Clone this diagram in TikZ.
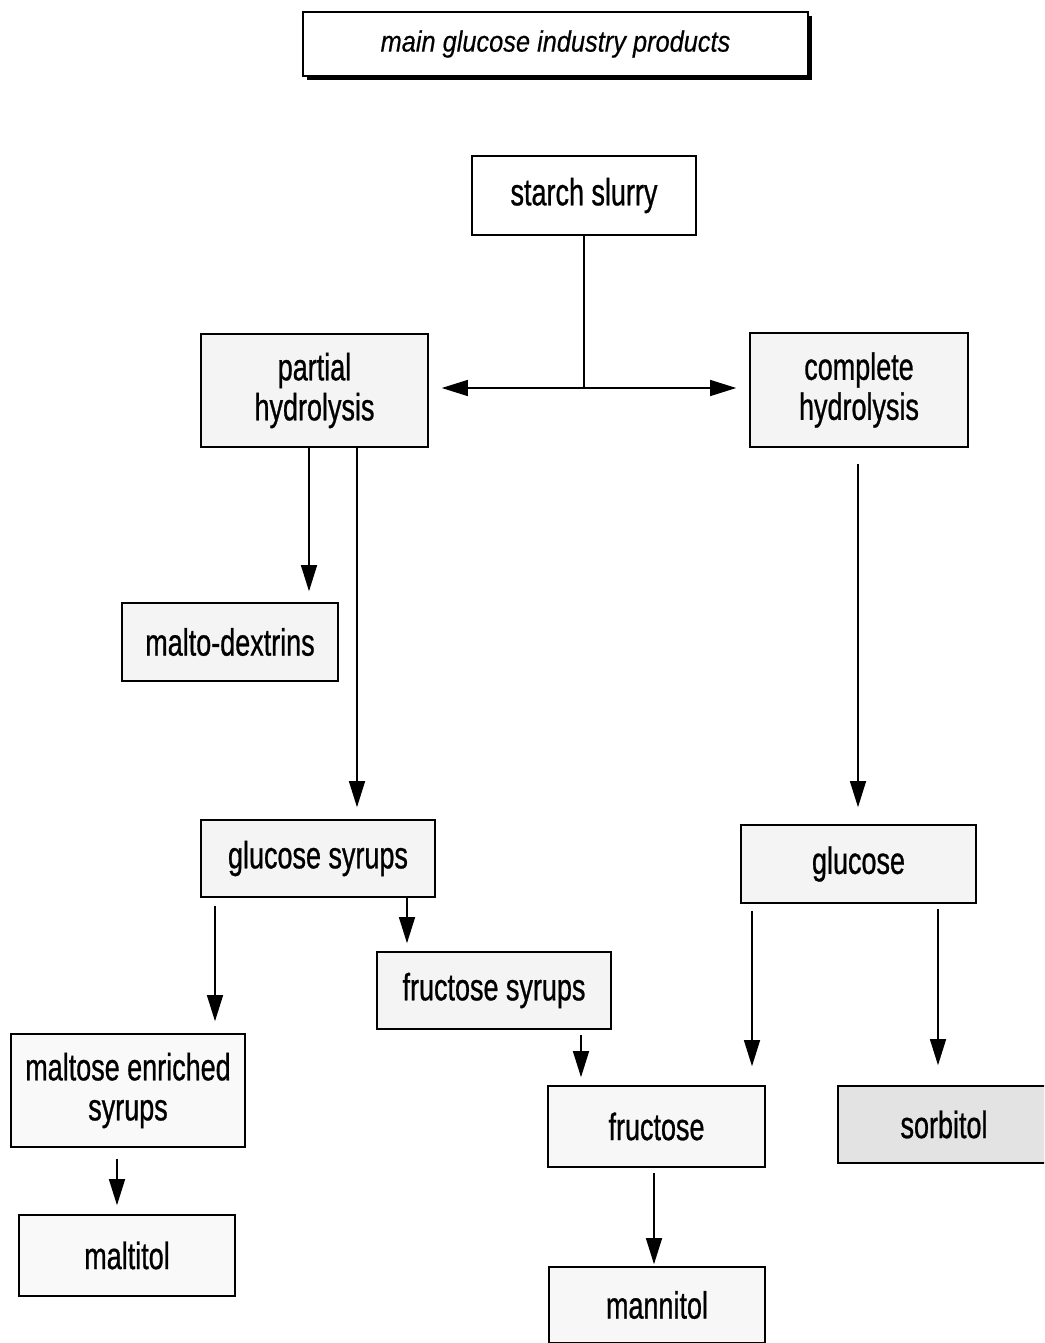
\documentclass[tikz,border=0pt]{standalone}
\usepackage{fontspec}
\setmainfont{Liberation Sans}[FakeStretch=0.71,FakeBold=0.7]
\newfontfamily\headfont{Liberation Sans}[FakeStretch=0.86,FakeBold=0.4]
\usetikzlibrary{arrows.meta,shadows}

\tikzset{
 box/.style 2 args={draw=black, line width=1.6pt, fill=gray!9,
   minimum width=#1, minimum height=#2, inner sep=0pt, align=center,
   font=\fontsize{38}{40}\selectfont},
 arr/.style={-{Triangle[length=26pt,width=16pt]}, line width=1.3pt},
 line/.style={line width=1.3pt}
}

\begin{document}
\begin{tikzpicture}[x=1pt,y=-1pt]
\clip (0,0) rectangle (1044,1343);

% title with shadow
\node[box={505}{64}, fill=white, font=\fontsize{29.5}{32}\selectfont,
  drop shadow={shadow xshift=4pt, shadow yshift=-4pt, fill=black, opacity=1}]
  (title) at (555.5,44) {\headfont\itshape main glucose industry products};

% nodes
\node[box={224}{79}, fill=white] (starch) at (584,195.5) {starch slurry};
\node[box={227}{113}] (partial) at (314.5,390.5) {partial\\hydrolysis};
\node[box={218}{114}] (complete) at (859,390) {complete\\hydrolysis};
\node[box={216}{78}] (malto) at (230,642) {malto-dextrins};
\node[box={234}{77}] (gsyr) at (318,858.5) {glucose syrups};
\node[box={235}{78}] (glucose) at (858.5,864) {glucose};
\node[box={234}{77}] (fsyr) at (494,990.5) {fructose syrups};
\node[box={234}{113}, fill=gray!5] (maltose) at (128,1090.5) {maltose enriched\\syrups};
\node[box={216}{81}, fill=gray!5] (maltitol) at (127,1255.5) {maltitol};
\node[box={217}{81}, fill=gray!6] (fructose) at (656.5,1126.5) {fructose};
\node[box={212}{77}, fill=gray!22] (sorbitol) at (944,1124.5) {sorbitol};
\node[box={216}{76}, fill=gray!6] (mannitol) at (657,1305) {mannitol};

% starch slurry splits in two
\coordinate (fork) at (584,388);
\draw[line] (starch.south) -- (fork);
\draw[arr, shorten >=13pt] (fork) -- (fork -| partial.east);
\draw[arr, shorten >=13pt] (fork) -- (fork -| complete.west);

% partial hydrolysis
\draw[arr, shorten >=11pt] ([xshift=-5.5pt]partial.south)
  -- ([xshift=-5.5pt]partial.south |- malto.north);
\draw[arr, shorten >=12pt] ([xshift=42.5pt]partial.south)
  -- ([xshift=42.5pt]partial.south |- gsyr.north);

% complete hydrolysis
\draw[arr, shorten <=16pt, shorten >=17pt] ([xshift=-1pt]complete.south)
  -- ([xshift=-1pt]complete.south |- glucose.north);

% glucose syrups
\draw[arr, shorten <=8pt, shorten >=12pt] ([xshift=-103pt]gsyr.south)
  -- ([xshift=-103pt]gsyr.south |- maltose.north);
\draw[arr, shorten >=8pt] ([xshift=89pt]gsyr.south)
  -- ([xshift=89pt]gsyr.south |- fsyr.north);
\draw[arr, shorten <=5pt, shorten >=8pt] ([xshift=87pt]fsyr.south)
  -- ([xshift=87pt]fsyr.south |- fructose.north);

% glucose
\draw[arr, shorten <=7pt, shorten >=19pt] ([xshift=-106.5pt]glucose.south)
  -- ([xshift=-106.5pt]glucose.south |- fructose.north);
\draw[arr, shorten <=5pt, shorten >=20pt] ([xshift=79.5pt]glucose.south)
  -- ([xshift=79.5pt]glucose.south |- sorbitol.north);

% last step
\draw[arr, shorten <=11pt, shorten >=9pt] ([xshift=-11pt]maltose.south)
  -- ([xshift=-11pt]maltose.south |- maltitol.north);
\draw[arr, shorten <=5pt, shorten >=2pt] ([xshift=-2.5pt]fructose.south)
  -- ([xshift=-2.5pt]fructose.south |- mannitol.north);

\end{tikzpicture}
\end{document}
